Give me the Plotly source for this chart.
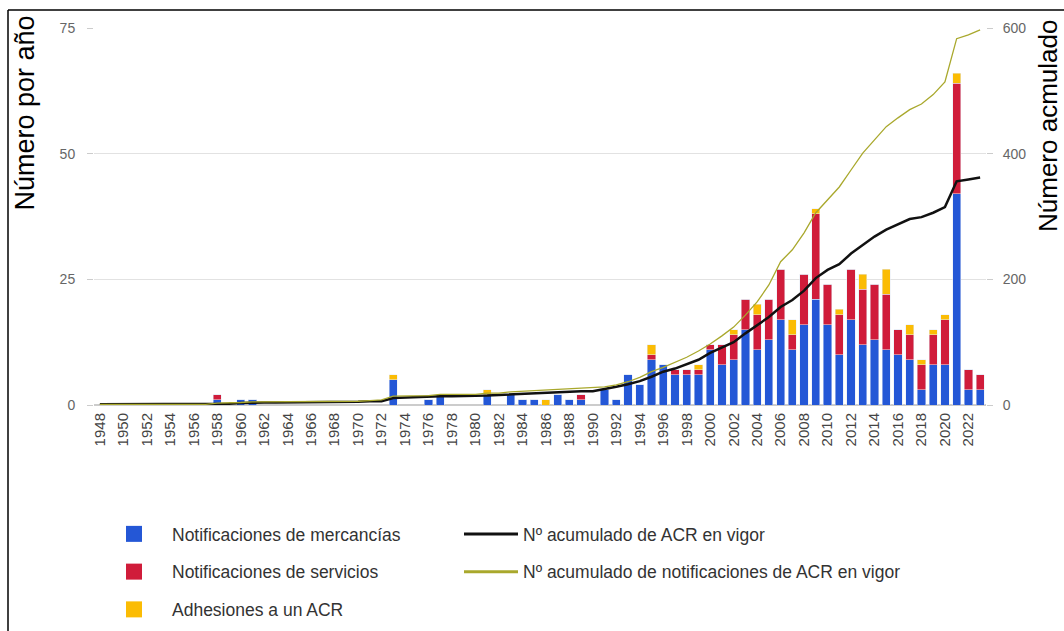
import plotly.graph_objects as go

years = list(range(1948, 2024))

mercancias = [0,0,0,0,0,0,0,0,0,0,  # 1948-1957
              1,0,1,1,0,0,0,0,0,0,  # 1958-1967
              0,0,0,0,0,5,0,0,1,2,  # 1968-1977
              0,0,0,2,0,2,1,1,0,2,  # 1978-1987
              1,1,0,3,1,6,4,9,8,6,  # 1988-1997
              6,6,11,8,9,15,11,13,17,11,  # 1998-2007
              16,21,16,10,17,12,13,11,10,9,  # 2008-2017
              3,8,8,42,3,3]  # 2018-2023

servicios = [0,0,0,0,0,0,0,0,0,0,
             1,0,0,0,0,0,0,0,0,0,
             0,0,0,0,0,0,0,0,0,0,
             0,0,0,0,0,0,0,0,0,0,
             0,1,0,0,0,0,0,1,0,1,
             1,1,1,4,5,6,7,8,10,3,
             10,17,8,8,10,11,11,11,5,5,
             5,6,9,22,4,3]

adhesiones = [0,0,0,0,0,0,0,0,0,0,
              0,0,0,0,0,0,0,0,0,0,
              0,0,0,0,0,1,0,0,0,0,
              0,0,0,1,0,0,0,0,1,0,
              0,0,0,0,0,0,0,2,0,0,
              0,1,0,0,1,0,2,0,0,3,
              0,1,0,1,0,3,0,5,0,2,
              1,1,1,2,0,0]

acr_vigor = [1,1,1,1,1,1,1,1,1,1,
             2,2,3,4,4,4,4,4,4,4,
             4,4,5,6,6,11,12,12,13,14,
             14,14,14,15,16,17,18,18,19,20,
             21,22,22,25,29,33,38,45,53,58,
             65,72,83,92,100,114,127,140,156,167,
             182,202,215,224,241,255,268,279,288,296,
             299,306,315,356,359,362]

notif_vigor = [1,1,1,1,1,1,1,1,1,1,
               3,3,4,5,5,5,5,5,5,5,
               5,5,6,7,8,14,14,14,15,17,
               17,17,17,19,19,21,22,23,23,25,
               26,27,27,29,32,37,44,53,60,68,
               76,86,97,110,124,143,164,191,228,247,
               274,306,326,347,374,401,422,443,457,470,
               479,494,514,583,589,597]

left_ticks = [0, 25, 50, 75]
right_ticks = [0, 200, 400, 600]
x_ticks = list(range(1948, 2023, 2))

BLUE = "#2457d6"
RED = "#d01c3a"
YEL = "#fbbc04"
BLACK = "#111111"
OLIVE = "#a9a82c"

bar_series = [("Notificaciones de mercancías", mercancias, BLUE),
              ("Notificaciones de servicios", servicios, RED),
              ("Adhesiones a un ACR", adhesiones, YEL)]
line_series = [("Nº acumulado de ACR en vigor", acr_vigor, BLACK, 2.5, 3),
               ("Nº acumulado de notificaciones de ACR en vigor", notif_vigor, OLIVE, 1.3, 3)]

fig = go.Figure()
for i, (name, vals, col) in enumerate(bar_series):
    fig.add_trace(go.Bar(x=years, y=vals, name=name, marker_color=col,
                         showlegend=False, legendgroup="b%d" % i))
for i, (name, vals, col, w, lw) in enumerate(line_series):
    fig.add_trace(go.Scatter(x=years, y=vals, name=name, mode="lines",
                             line=dict(color=col, width=w), yaxis="y2",
                             showlegend=False, legendgroup="l%d" % i))
# legend entries (larger swatches, as in the reference)
for i, (name, vals, col) in enumerate(bar_series):
    fig.add_trace(go.Scatter(x=[None], y=[None], name=name, mode="markers",
                             marker=dict(symbol="square", size=16, color=col),
                             legend="legend", legendgroup="b%d" % i))
for i, (name, vals, col, w, lw) in enumerate(line_series):
    fig.add_trace(go.Scatter(x=[None], y=[None], name=name, mode="lines",
                             line=dict(color=col, width=lw), yaxis="y2",
                             legend="legend2", legendgroup="l%d" % i))

W, H = 1064, 631
L, R, T, B = 94, 78, 28, 226
pw, ph = W - L - R, H - T - B

def px(x):
    return (x - L) / pw

def py(y):
    return (H - B - y) / ph

FONT = "Liberation Sans, Arial, sans-serif"
LEGFONT = dict(size=17.5, color="#333333", family=FONT)

fig.update_layout(
    width=W, height=H,
    margin=dict(l=L, r=R, t=T, b=B, pad=0, autoexpand=False),
    paper_bgcolor="white", plot_bgcolor="white",
    barmode="stack", bargap=0.3,
    font=dict(family=FONT, color="#444444"),
    xaxis=dict(range=[1947.5, 2023.5], tickmode="array", tickvals=x_ticks,
               ticktext=[str(v) for v in x_ticks], tickangle=-90,
               tickfont=dict(size=15, color="#444444"), showgrid=False,
               ticks="", showline=False, zeroline=False, ticklabelstandoff=4,
               automargin=False),
    yaxis=dict(range=[0, 75], tickvals=left_ticks, tickfont=dict(size=14, color="#666666"),
               showgrid=True, gridcolor="#e2e2e2", gridwidth=1, zeroline=True,
               zerolinecolor="#cccccc", ticks="outside", ticklen=6, tickcolor="#cccccc",
               ticklabelstandoff=9, automargin=False),
    yaxis2=dict(range=[0, 600], tickvals=right_ticks, overlaying="y", side="right",
                tickfont=dict(size=14, color="#666666"), showgrid=False, zeroline=False,
                ticks="outside", ticklen=6, tickcolor="#cccccc", ticklabelstandoff=7,
                automargin=False),
    legend=dict(x=px(96), y=py(516), xanchor="left", yanchor="top",
                orientation="v", font=LEGFONT, itemwidth=66,
                tracegroupgap=12, bgcolor="rgba(0,0,0,0)", traceorder="grouped"),
    legend2=dict(x=px(459), y=py(516), xanchor="left", yanchor="top",
                 orientation="v", font=LEGFONT, itemwidth=54,
                 tracegroupgap=12, bgcolor="rgba(0,0,0,0)", traceorder="grouped"),
    annotations=[
        dict(text="Número por año", textangle=-90, xref="paper", yref="paper",
             x=px(24), y=py(14), xanchor="center", yanchor="top", showarrow=False,
             font=dict(size=27, color="#000000", family=FONT)),
        dict(text="Número acmulado", textangle=-90, xref="paper", yref="paper",
             x=px(1048), y=py(18), xanchor="center", yanchor="top", showarrow=False,
             font=dict(size=26, color="#000000", family=FONT)),
    ],
    shapes=[
        dict(type="line", xref="paper", yref="paper", x0=px(8), x1=px(8),
             y0=py(10), y1=py(700), line=dict(color="#000000", width=1.5)),
        dict(type="line", xref="paper", yref="paper", x0=px(8), x1=px(1100),
             y0=py(10), y1=py(10), line=dict(color="#000000", width=1.5)),
    ],
)

fig.write_html("out.html", config={"displayModeBar": False},
               post_script="document.body.style.margin='0';")
